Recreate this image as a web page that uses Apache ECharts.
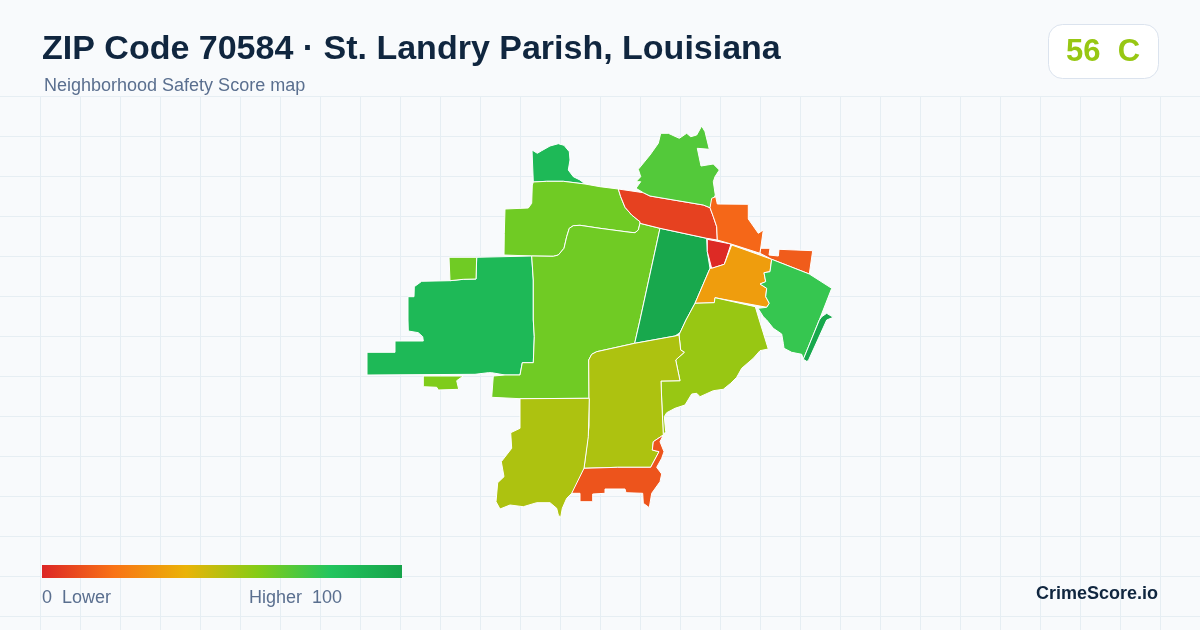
<!DOCTYPE html>
<html>
<head>
<meta charset="utf-8">
<title>ZIP Code 70584</title>
<script src="https://cdn.jsdelivr.net/npm/echarts@6/dist/echarts.min.js"></script>
<style>
  html,body{margin:0;padding:0;background:#f8fafc;}
  #chart{width:1200px;height:630px;}
</style>
</head>
<body>
<div id="chart"></div>
<script>
// ===== Data
const scaleColors = ['#dc2626','#f97316','#eab308','#84cc16','#22c55e','#16a34a'];
const gradeScore = '56';
const gradeLetter = 'C';

const tractNames = ['nw_top','nw_lime','west','west_notch','sw_islet','center','east_center','small_red','amber','strip','north','orange','east_orange','east_green','sliver','southeast','south_center','southwest','south_orange'];
const tractScores = [87,64,87,64,61,64,97,1,33,7,70,17,14,76,97,56,52,52,12];

// tract outlines
const nw_top = [[532,150],[537.3,153.3],[541.7,150.7],[550,146],[558.3,143.7],[564,145.3],[569.3,151.7],[570,160],[568.3,170],[573.3,176.7],[580,180],[585,184],[563.3,181.3],[546.7,181.3],[533.3,182]];
const nw_lime = [[533.3,182],[546.7,181.3],[563.3,181.3],[585,184],[600,186.7],[618.3,189],[620.7,196.7],[625,207.3],[631.7,215],[640,221.7],[640,223.3],[638.3,230],[635,232.7],[630,232.3],[600,228.3],[580,225.3],[573.3,225.7],[569.3,228.3],[566.7,236.7],[564,248.3],[558.3,255],[553.3,256.3],[531.7,256],[504,255],[504.3,233.3],[505,209],[528.3,208],[531.7,203.3],[532.3,185]];
const west = [[476.7,257.3],[531.7,256],[533.3,280],[533.3,320],[534.3,336.7],[533.3,362.7],[522.3,362.7],[520,375],[505,375],[491.7,372.7],[488.3,372.7],[475,374.3],[367,375],[367,352.3],[395,352.3],[395,341],[423.3,341],[422.7,336.7],[418.3,332.7],[408.3,331],[408,320],[408,296.7],[414,296.7],[414.3,286.7],[421.7,281.3],[450,280.7],[463.3,279.3],[476,279]];
const west_notch = [[449,257.3],[476.7,257.3],[476,279],[463.3,279.3],[450,280.7]];
const sw_islet = [[423.3,376],[463.3,376],[456.7,380.7],[458.7,389.3],[438.3,390],[436.7,387.3],[423.3,386.7]];
const center = [[531.7,256],[553.3,256.3],[558.3,255],[564,248.3],[566.7,236.7],[569.3,228.3],[573.3,225.7],[580,225.3],[600,228.3],[630,232.3],[635,232.7],[638.3,230],[640,223.3],[660,228.3],[640,320],[634.7,343.3],[596.7,351.7],[591.7,354.3],[588.7,360],[589,398.3],[520,398.7],[491.7,397.3],[493.3,376],[505,375],[520,375],[522.3,362.7],[533.3,362.7],[534.3,336.7],[533.3,320],[533.3,280]];
const east_center = [[660,228.3],[706.7,238.3],[707.3,251.7],[710,268.3],[695,303.3],[686,320],[680,332.7],[675,336],[634.7,343.3],[640,320]];
const small_red = [[707.3,239.3],[731,244],[724.3,264.3],[711.7,268.3],[707.3,251.7]];
const amber = [[731.7,245],[771.7,259.3],[770,271.7],[764,272.7],[765.7,281.7],[760,284],[766.7,288.3],[765.7,296.7],[769.3,303.3],[766.7,307.3],[715,297.7],[714.3,302.7],[695,303.3],[710,268.3],[711.7,268.3],[724.3,264.3]];
const strip = [[618.3,189],[643.3,192.7],[650,196],[703.3,205],[710,207.7],[713.3,216.7],[716.7,226.7],[717.3,240],[706.7,238.3],[660,228.3],[640,223.3],[640,221.7],[631.7,215],[625,207.3],[620.7,196.7]];
const north = [[643.3,192.7],[636,188.3],[640.7,181.7],[636,181.7],[640.7,176.7],[638.3,169.3],[650,155],[658.3,143.3],[660.7,133.3],[668.3,133.3],[679.3,138.3],[686.7,133.3],[690.7,136.7],[696.7,135],[701.7,126],[705,131.7],[709.3,149.3],[697.3,148.3],[701,166],[713.3,164],[719.3,170],[715,176.7],[713.3,181.7],[715.3,195],[710,207.7],[703.3,205],[650,196]];
const orange = [[711.7,198.3],[715.7,196.7],[717.3,204],[748.3,204.3],[748.3,219],[758.3,233.3],[763.3,230],[760,253.3],[731,244],[717.3,240],[716.7,226.7],[713.3,216.7],[710,207.7]];
const east_orange = [[760.7,248.3],[770,248.3],[769,255],[778.3,256],[779,249.3],[812.7,250.7],[809.3,274],[771.7,259.3],[760,253.3]];
const east_green = [[771.7,259.3],[809.3,274],[831.7,288.3],[819.3,320],[803.3,359.3],[801.7,354.3],[791.7,352.3],[784,348.3],[783.3,343.3],[781.7,334],[773.3,328.3],[766.7,320],[763.3,316.7],[758,308.3],[766.7,307.3],[769.3,303.3],[765.7,296.7],[766.7,288.3],[760,284],[765.7,281.7],[764,272.7],[770,271.7]];
const sliver = [[821.7,316.7],[826.7,313.3],[833.3,317.3],[826.7,320],[808.3,360.7],[806.7,361.3],[803.3,359.3],[819.3,320]];
const southeast = [[695,303.3],[714.3,302.7],[715,297.7],[755.3,306.7],[759.3,320],[768.3,349],[760,350.7],[753.3,358.3],[741.7,368.3],[736.7,377.3],[730.7,383.3],[723.3,389.3],[713.3,390.7],[700,396.7],[696.7,393.3],[691.7,394],[685,405],[675,408.3],[666.7,412.7],[664.3,416.7],[665.7,431.7],[663.3,435],[661.7,400],[661,381],[680,380.7],[675.7,360],[684.3,352.3],[680.7,350],[679,335],[680,332.7],[686,320]];
const south_center = [[634.7,343.3],[675,336],[679,335],[680.7,350],[684.3,352.3],[675.7,360],[680,380.7],[661,381],[661.7,400],[663.3,435],[653.3,441.7],[652.3,450],[659,451.7],[650.7,467.3],[617.3,467.3],[584,468.3],[586.7,446.7],[589,426.7],[589,398.3],[588.7,360],[591.7,354.3],[596.7,351.7]];
const southwest = [[520,398.7],[589.3,398.3],[588.3,436.7],[584,468.3],[582.7,473.3],[573.3,491.7],[566.7,498.3],[562.3,508.3],[560.7,517.3],[558.3,515],[556.7,508.3],[550,502.7],[536.7,502.7],[523.3,506.7],[510,505],[500,509],[496,501.7],[497.7,482.7],[504,476.7],[501.3,461.7],[511.7,448.3],[510.7,432.7],[520,428.3]];
const south_orange = [[663.3,435],[660,441.7],[664,451.7],[661.7,458.3],[656.7,467.3],[661.7,474],[660,481.7],[651.7,493.3],[649.3,507.7],[643.3,503.3],[642.7,493.3],[626,492.7],[625,489],[605,489],[605,493.3],[592.7,494],[592.7,501.7],[580,501.7],[580,493.3],[571.7,493.3],[584,468.3],[617.3,467.3],[650.7,467.3],[659,451.7],[652.3,450],[653.3,441.7]];

const tractShapes = [nw_top,nw_lime,west,west_notch,sw_islet,center,east_center,small_red,amber,strip,north,orange,east_orange,east_green,sliver,southeast,south_center,southwest,south_orange];

// ===== Map
const geo = {
  type:'FeatureCollection',
  features: tractNames.map((n,i)=>({
    type:'Feature',
    properties:{name:n},
    geometry:{type:'Polygon',coordinates:[tractShapes[i].concat([tractShapes[i][0]])]}
  }))
};
echarts.registerMap('zip70584', geo);

const allPts = tractShapes.flat();
const minX = Math.min(...allPts.map(p=>p[0])), maxX = Math.max(...allPts.map(p=>p[0]));
const minY = Math.min(...allPts.map(p=>p[1])), maxY = Math.max(...allPts.map(p=>p[1]));

// ===== Background grid
const gridLines = [];
for(let x=40;x<1200;x+=40){
  gridLines.push({type:'line',silent:true,z:0,shape:{x1:x+.5,y1:96,x2:x+.5,y2:630},style:{stroke:'#e6eef3',lineWidth:1}});
}
for(let y=96;y<630;y+=40){
  gridLines.push({type:'line',silent:true,z:0,shape:{x1:0,y1:y+.5,x2:1200,y2:y+.5},style:{stroke:'#e6eef3',lineWidth:1}});
}

// legend bar: square ends, the visualMap's own bar is rounded
const legendStops = scaleColors.map((c,i)=>({offset:i/(scaleColors.length-1),color:c}));

const FONT = '"Liberation Sans", Arial, sans-serif';
const chart = echarts.init(document.getElementById('chart'));
chart.setOption({
  backgroundColor:'#f8fafc',
  animation:false,
  title:[
    {text:'ZIP Code 70584 · St. Landry Parish, Louisiana',left:42,top:33,padding:0,
      textStyle:{fontFamily:FONT,fontSize:34,fontWeight:'bold',color:'#10263f'}},
    {text:'Neighborhood Safety Score map',left:44,top:77,padding:0,
      textStyle:{fontFamily:FONT,fontSize:18,fontWeight:'normal',color:'#5a6f8f'}}
  ],
  visualMap:{
    type:'continuous',show:false,min:0,max:100,
    inRange:{color:scaleColors}
  },
  series:[{
    type:'map',map:'zip70584',silent:true,roam:false,aspectScale:1,
    projection:{project:p=>[p[0],p[1]],unproject:p=>[p[0],p[1]]},
    left:minX,top:minY,width:maxX-minX,height:maxY-minY,
    label:{show:false},
    emphasis:{disabled:true},select:{disabled:true},
    itemStyle:{borderColor:'#ffffff',borderWidth:1},
    data:tractNames.map((n,i)=>({name:n,value:tractScores[i]}))
  }],
  graphic:gridLines.concat([
    {type:'rect',silent:true,z:1,shape:{x:1048.5,y:24.5,width:110,height:54,r:14},style:{fill:'#ffffff',stroke:'#dbe3ee',lineWidth:1}},
    {type:'rect',silent:true,z:1,shape:{x:42,y:565,width:360,height:13},
      style:{fill:new echarts.graphic.LinearGradient(0,0,1,0,legendStops)}},
    {type:'text',silent:true,z:2,style:{x:1103,y:52,text:gradeScore+'  '+gradeLetter,font:'bold 31px '+FONT,fill:'#97c713',align:'center',verticalAlign:'middle'}},
    {type:'text',silent:true,z:2,style:{x:42,y:598,text:'0  Lower',font:'18px '+FONT,fill:'#5a6f8f',align:'left',verticalAlign:'middle'}},
    {type:'text',silent:true,z:2,style:{x:249,y:598,text:'Higher  100',font:'18px '+FONT,fill:'#5a6f8f',align:'left',verticalAlign:'middle'}},
    {type:'text',silent:true,z:2,style:{x:1158,y:594,text:'CrimeScore.io',font:'bold 18px '+FONT,fill:'#10263f',align:'right',verticalAlign:'middle'}}
  ])
});
</script>
</body>
</html>
